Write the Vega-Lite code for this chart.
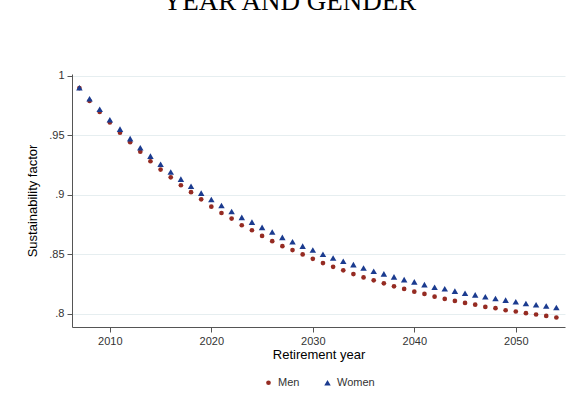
{
  "$schema": "https://vega.github.io/schema/vega-lite/v6.json",
  "width": 493,
  "height": 253,
  "autosize": {"type": "none"},
  "padding": {"left": 72, "top": 74, "right": 3, "bottom": 79},
  "background": "white",
  "title": {
    "text": "YEAR AND GENDER",
    "font": "Liberation Serif",
    "fontSize": 27,
    "fontWeight": "normal",
    "color": "#000000",
    "anchor": "middle",
    "frame": "group",
    "baseline": "alphabetic",
    "offset": 33,
    "dx": -29
  },
  "config": {
    "view": {"stroke": null},
    "font": "Liberation Sans",
    "legend": {"layout": {"bottom": {"anchor": "middle"}}}
  },
  "data": {
    "values": [
      {"year": 2007, "gender": "Men", "factor": 0.9895},
      {"year": 2008, "gender": "Men", "factor": 0.9786},
      {"year": 2009, "gender": "Men", "factor": 0.9694},
      {"year": 2010, "gender": "Men", "factor": 0.9606},
      {"year": 2011, "gender": "Men", "factor": 0.952},
      {"year": 2012, "gender": "Men", "factor": 0.944},
      {"year": 2013, "gender": "Men", "factor": 0.936},
      {"year": 2014, "gender": "Men", "factor": 0.928},
      {"year": 2015, "gender": "Men", "factor": 0.921},
      {"year": 2016, "gender": "Men", "factor": 0.9145},
      {"year": 2017, "gender": "Men", "factor": 0.9078},
      {"year": 2018, "gender": "Men", "factor": 0.902},
      {"year": 2019, "gender": "Men", "factor": 0.896},
      {"year": 2020, "gender": "Men", "factor": 0.8898},
      {"year": 2021, "gender": "Men", "factor": 0.8845},
      {"year": 2022, "gender": "Men", "factor": 0.8798},
      {"year": 2023, "gender": "Men", "factor": 0.8742},
      {"year": 2024, "gender": "Men", "factor": 0.87},
      {"year": 2025, "gender": "Men", "factor": 0.8652},
      {"year": 2026, "gender": "Men", "factor": 0.8608},
      {"year": 2027, "gender": "Men", "factor": 0.8566},
      {"year": 2028, "gender": "Men", "factor": 0.8533},
      {"year": 2029, "gender": "Men", "factor": 0.8497},
      {"year": 2030, "gender": "Men", "factor": 0.846},
      {"year": 2031, "gender": "Men", "factor": 0.8424},
      {"year": 2032, "gender": "Men", "factor": 0.8393},
      {"year": 2033, "gender": "Men", "factor": 0.8363},
      {"year": 2034, "gender": "Men", "factor": 0.8332},
      {"year": 2035, "gender": "Men", "factor": 0.8304},
      {"year": 2036, "gender": "Men", "factor": 0.8279},
      {"year": 2037, "gender": "Men", "factor": 0.8254},
      {"year": 2038, "gender": "Men", "factor": 0.8229},
      {"year": 2039, "gender": "Men", "factor": 0.8207},
      {"year": 2040, "gender": "Men", "factor": 0.8184},
      {"year": 2041, "gender": "Men", "factor": 0.8165},
      {"year": 2042, "gender": "Men", "factor": 0.8142},
      {"year": 2043, "gender": "Men", "factor": 0.8123},
      {"year": 2044, "gender": "Men", "factor": 0.8106},
      {"year": 2045, "gender": "Men", "factor": 0.8089},
      {"year": 2046, "gender": "Men", "factor": 0.8075},
      {"year": 2047, "gender": "Men", "factor": 0.8056},
      {"year": 2048, "gender": "Men", "factor": 0.8045},
      {"year": 2049, "gender": "Men", "factor": 0.8028},
      {"year": 2050, "gender": "Men", "factor": 0.8017},
      {"year": 2051, "gender": "Men", "factor": 0.8003},
      {"year": 2052, "gender": "Men", "factor": 0.7992},
      {"year": 2053, "gender": "Men", "factor": 0.798},
      {"year": 2054, "gender": "Men", "factor": 0.7967},
      {"year": 2007, "gender": "Women", "factor": 0.9897},
      {"year": 2008, "gender": "Women", "factor": 0.9805},
      {"year": 2009, "gender": "Women", "factor": 0.9717},
      {"year": 2010, "gender": "Women", "factor": 0.9628},
      {"year": 2011, "gender": "Women", "factor": 0.955},
      {"year": 2012, "gender": "Women", "factor": 0.947},
      {"year": 2013, "gender": "Women", "factor": 0.9393},
      {"year": 2014, "gender": "Women", "factor": 0.9323},
      {"year": 2015, "gender": "Women", "factor": 0.9255},
      {"year": 2016, "gender": "Women", "factor": 0.919},
      {"year": 2017, "gender": "Women", "factor": 0.913},
      {"year": 2018, "gender": "Women", "factor": 0.907},
      {"year": 2019, "gender": "Women", "factor": 0.9012},
      {"year": 2020, "gender": "Women", "factor": 0.8958},
      {"year": 2021, "gender": "Women", "factor": 0.8908},
      {"year": 2022, "gender": "Women", "factor": 0.8858},
      {"year": 2023, "gender": "Women", "factor": 0.8808},
      {"year": 2024, "gender": "Women", "factor": 0.8768},
      {"year": 2025, "gender": "Women", "factor": 0.8724},
      {"year": 2026, "gender": "Women", "factor": 0.8685},
      {"year": 2027, "gender": "Women", "factor": 0.864},
      {"year": 2028, "gender": "Women", "factor": 0.8603},
      {"year": 2029, "gender": "Women", "factor": 0.8567},
      {"year": 2030, "gender": "Women", "factor": 0.8534},
      {"year": 2031, "gender": "Women", "factor": 0.8498},
      {"year": 2032, "gender": "Women", "factor": 0.8467},
      {"year": 2033, "gender": "Women", "factor": 0.8439},
      {"year": 2034, "gender": "Women", "factor": 0.8411},
      {"year": 2035, "gender": "Women", "factor": 0.8383},
      {"year": 2036, "gender": "Women", "factor": 0.8356},
      {"year": 2037, "gender": "Women", "factor": 0.8333},
      {"year": 2038, "gender": "Women", "factor": 0.8308},
      {"year": 2039, "gender": "Women", "factor": 0.8285},
      {"year": 2040, "gender": "Women", "factor": 0.8266},
      {"year": 2041, "gender": "Women", "factor": 0.8243},
      {"year": 2042, "gender": "Women", "factor": 0.8221},
      {"year": 2043, "gender": "Women", "factor": 0.8208},
      {"year": 2044, "gender": "Women", "factor": 0.8188},
      {"year": 2045, "gender": "Women", "factor": 0.8171},
      {"year": 2046, "gender": "Women", "factor": 0.8157},
      {"year": 2047, "gender": "Women", "factor": 0.8141},
      {"year": 2048, "gender": "Women", "factor": 0.8126},
      {"year": 2049, "gender": "Women", "factor": 0.8113},
      {"year": 2050, "gender": "Women", "factor": 0.8099},
      {"year": 2051, "gender": "Women", "factor": 0.8085},
      {"year": 2052, "gender": "Women", "factor": 0.8074},
      {"year": 2053, "gender": "Women", "factor": 0.8063},
      {"year": 2054, "gender": "Women", "factor": 0.8051}
    ]
  },
  "mark": {"type": "point", "filled": true, "opacity": 1},
  "encoding": {
    "x": {
      "field": "year",
      "type": "quantitative",
      "scale": {"domain": [2006.27, 2054.85], "nice": false, "zero": false},
      "axis": {
        "title": "Retirement year",
        "values": [2010, 2020, 2030, 2040, 2050],
        "format": "d",
        "grid": false,
        "domainColor": "#555555",
        "tickColor": "#555555",
        "tickSize": 5,
        "labelFont": "Liberation Sans",
        "labelFontSize": 11,
        "labelColor": "#333333",
        "labelPadding": 3,
        "titleFont": "Liberation Sans",
        "titleFontSize": 13,
        "titleFontWeight": "normal",
        "titleColor": "#000000",
        "titlePadding": 2
      }
    },
    "y": {
      "field": "factor",
      "type": "quantitative",
      "scale": {"domain": [0.7887, 1.0013], "nice": false, "zero": false},
      "axis": {
        "title": "Sustainability factor",
        "values": [0.8, 0.85, 0.9, 0.95, 1],
        "labelExpr": "replace(format(datum.value, '.2~f'), '0.', '.')",
        "grid": true,
        "gridColor": "#e6eef0",
        "gridWidth": 1,
        "domainColor": "#555555",
        "tickColor": "#555555",
        "tickSize": 5,
        "labelFont": "Liberation Sans",
        "labelFontSize": 11,
        "labelColor": "#333333",
        "labelPadding": 3,
        "titleFont": "Liberation Sans",
        "titleFontSize": 13,
        "titleFontWeight": "normal",
        "titleColor": "#000000",
        "titlePadding": 9
      }
    },
    "color": {
      "field": "gender",
      "type": "nominal",
      "scale": {"domain": ["Men", "Women"], "range": ["#952b22", "#1b3b8f"]},
      "legend": {
        "title": null,
        "orient": "bottom",
        "direction": "horizontal",
        "labelFont": "Liberation Sans",
        "labelFontSize": 11,
        "labelColor": "#333333",
        "columnPadding": 22,
        "offset": 16
      }
    },
    "shape": {
      "field": "gender",
      "type": "nominal",
      "scale": {"domain": ["Men", "Women"], "range": ["circle", "triangle-up"]},
      "legend": {
        "title": null,
        "orient": "bottom",
        "direction": "horizontal",
        "labelFont": "Liberation Sans",
        "labelFontSize": 11,
        "labelColor": "#333333",
        "columnPadding": 22,
        "offset": 16
      }
    },
    "size": {
      "field": "gender",
      "type": "nominal",
      "scale": {"domain": ["Men", "Women"], "range": [22, 42]},
      "legend": {
        "title": null,
        "orient": "bottom",
        "direction": "horizontal",
        "labelFont": "Liberation Sans",
        "labelFontSize": 11,
        "labelColor": "#333333",
        "columnPadding": 22,
        "offset": 16
      }
    }
  }
}
